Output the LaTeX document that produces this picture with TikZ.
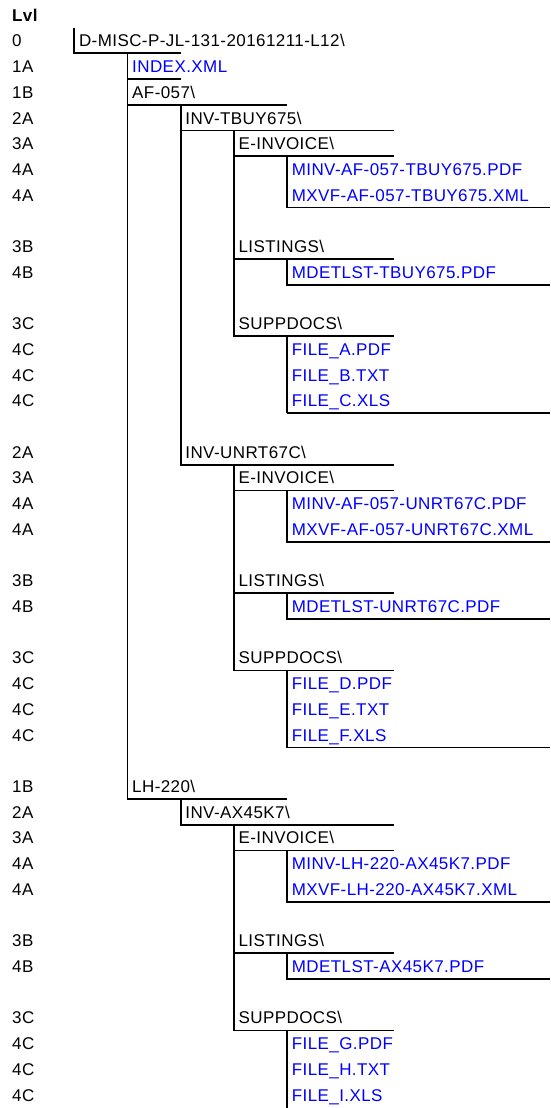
\documentclass[tikz,border=0pt]{standalone}
\usepackage{fontspec}
\setmainfont{Liberation Sans}[LetterSpace=2.5]
\definecolor{filelink}{RGB}{0,0,255}

\begin{document}
\begin{tikzpicture}[x=1pt, y=-25.71pt,
    cell/.style={anchor=base west, inner sep=0pt, font=\fontsize{17}{20}\selectfont},
    file/.style={cell, text=filelink},
    border/.style={line width=1.7pt}]

    \useasboundingbox (0,-0.074) rectangle (550,43.02);

    % level column
    \node[cell, font=\fontsize{17}{20}\selectfont\bfseries] (head) at (12,0.75) {Lvl};
    \foreach \r/\t in {2/0, 3/1A, 4/1B, 5/2A, 6/3A, 7/4A, 8/4A, 10/3B, 11/4B,
        13/3C, 14/4C, 15/4C, 16/4C, 18/2A, 19/3A, 20/4A, 21/4A, 23/3B, 24/4B,
        26/3C, 27/4C, 28/4C, 29/4C, 31/1B, 32/2A, 33/3A, 34/4A, 35/4A, 37/3B,
        38/4B, 40/3C, 41/4C, 42/4C, 43/4C}
        \node[cell] (lvl\r) at (12,\r-0.25) {\t};

    % tree
    \node[cell] (root) at (78.8,1.75) {D-MISC-P-JL-131-20161211-L12\textbackslash};
    \node[file] (index) at (132,2.75) {INDEX.XML};
    \node[cell] (af) at (132,3.75) {AF-057\textbackslash};

    \node[cell] (tbuy) at (185.2,4.75) {INV-TBUY675\textbackslash};
    \node[cell] (einvA) at (238.4,5.75) {E-INVOICE\textbackslash};
    \node[file] (minvA) at (291.6,6.75) {MINV-AF-057-TBUY675.PDF};
    \node[file] (mxvfA) at (291.6,7.75) {MXVF-AF-057-TBUY675.XML};
    \node[cell] (listA) at (238.4,9.75) {LISTINGS\textbackslash};
    \node[file] (mdetA) at (291.6,10.75) {MDETLST-TBUY675.PDF};
    \node[cell] (suppA) at (238.4,12.75) {SUPPDOCS\textbackslash};
    \node[file] (fileA) at (291.6,13.75) {FILE\_A.PDF};
    \node[file] (fileB) at (291.6,14.75) {FILE\_B.TXT};
    \node[file] (fileC) at (291.6,15.75) {FILE\_C.XLS};

    \node[cell] (unrt) at (185.2,17.75) {INV-UNRT67C\textbackslash};
    \node[cell] (einvB) at (238.4,18.75) {E-INVOICE\textbackslash};
    \node[file] (minvB) at (291.6,19.75) {MINV-AF-057-UNRT67C.PDF};
    \node[file] (mxvfB) at (291.6,20.75) {MXVF-AF-057-UNRT67C.XML};
    \node[cell] (listB) at (238.4,22.75) {LISTINGS\textbackslash};
    \node[file] (mdetB) at (291.6,23.75) {MDETLST-UNRT67C.PDF};
    \node[cell] (suppB) at (238.4,25.75) {SUPPDOCS\textbackslash};
    \node[file] (fileD) at (291.6,26.75) {FILE\_D.PDF};
    \node[file] (fileE) at (291.6,27.75) {FILE\_E.TXT};
    \node[file] (fileF) at (291.6,28.75) {FILE\_F.XLS};

    \node[cell] (lh) at (132,30.75) {LH-220\textbackslash};
    \node[cell] (ax) at (185.2,31.75) {INV-AX45K7\textbackslash};
    \node[cell] (einvC) at (238.4,32.75) {E-INVOICE\textbackslash};
    \node[file] (minvC) at (291.6,33.75) {MINV-LH-220-AX45K7.PDF};
    \node[file] (mxvfC) at (291.6,34.75) {MXVF-LH-220-AX45K7.XML};
    \node[cell] (listC) at (238.4,36.75) {LISTINGS\textbackslash};
    \node[file] (mdetC) at (291.6,37.75) {MDETLST-AX45K7.PDF};
    \node[cell] (suppC) at (238.4,39.75) {SUPPDOCS\textbackslash};
    \node[file] (fileG) at (291.6,40.75) {FILE\_G.PDF};
    \node[file] (fileH) at (291.6,41.75) {FILE\_H.TXT};
    \node[file] (fileI) at (291.6,42.75) {FILE\_I.XLS};

    % borders
    \draw[border] (74.3,1) |- (180.7,2);
    \draw[border] (127.5,2) |- (287.1,31);
    \draw[border] (127.5,3) -- (180.7,3);
    \draw[border] (127.5,4) -- (287.1,4);
    \draw[border] (180.7,4) |- (393.5,18);
    \draw[border] (180.7,5) -- (393.5,5);
    \draw[border] (180.7,31) |- (393.5,32);

    \foreach \o in {0,13,27} {
        \draw[border] (233.9,5+\o) |- (393.5,13+\o);
        \draw[border] (233.9,6+\o) -- (393.5,6+\o);
        \draw[border] (233.9,10+\o) -- (393.5,10+\o);
        \draw[border] (287.1,6+\o) |- (550,8+\o);
        \draw[border] (287.1,10+\o) |- (550,11+\o);
        \draw[border] (287.1,13+\o) -- (287.1,16+\o);
    }
    \draw[border] (287.1,16) -- (550,16);
    \draw[border] (287.1,29) -- (550,29);
\end{tikzpicture}
\end{document}
